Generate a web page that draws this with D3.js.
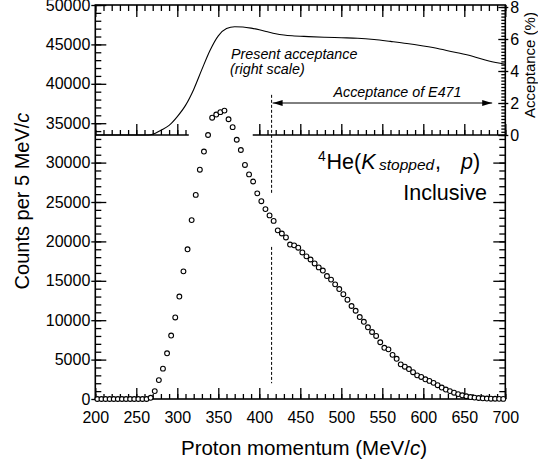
<!DOCTYPE html>
<html>
<head>
<meta charset="utf-8">
<script src="https://cdn.jsdelivr.net/npm/d3@7"></script>
<style>
  body { margin: 0; background: #fff; }
  text { font-family: "Liberation Sans", Arial, Helvetica, sans-serif; fill: #000; }
</style>
</head>
<body>
<svg id="chart" width="538" height="467"></svg>
<script>
// bin centres (MeV/c), 5 MeV bins
const momentum = [
  202.5, 207.5, 212.5, 217.5, 222.5, 227.5, 232.5, 237.5, 242.5, 247.5,
  252.5, 257.5, 262.5, 267.5, 272.5, 277.5, 282.5, 287.5, 292.5, 297.5,
  302.5, 307.5, 312.5, 317.5, 322.5, 327.5, 332.5, 337.5, 342.5, 347.5,
  352.5, 357.5, 362.5, 367.5, 372.5, 377.5, 382.5, 387.5, 392.5, 397.5,
  402.5, 407.5, 412.5, 417.5, 422.5, 427.5, 432.5, 437.5, 442.5, 447.5,
  452.5, 457.5, 462.5, 467.5, 472.5, 477.5, 482.5, 487.5, 492.5, 497.5,
  502.5, 507.5, 512.5, 517.5, 522.5, 527.5, 532.5, 537.5, 542.5, 547.5,
  552.5, 557.5, 562.5, 567.5, 572.5, 577.5, 582.5, 587.5, 592.5, 597.5,
  602.5, 607.5, 612.5, 617.5, 622.5, 627.5, 632.5, 637.5, 642.5, 647.5,
  652.5, 657.5, 662.5, 667.5, 672.5, 677.5, 682.5, 687.5, 692.5, 697.5
];
const counts = [
  0, 0, 0, 0, 0, 0, 0, 0, 0, 0,
  0, 0, 0, 150, 1000, 2400, 3850, 5800, 8050, 10350,
  13000, 16200, 19000, 22700, 25900, 29100, 31400, 33500, 35700, 36100,
  36400, 36600, 35500, 34500, 32900, 31600, 29700, 28500, 27600, 26100,
  25100, 24100, 23300, 22600, 21400, 21000, 20500, 19600, 19500, 19200,
  18600, 18100, 17700, 17200, 16700, 16300, 15600, 15150, 14550, 13950,
  13300, 12600, 11800, 11200, 10400, 9800, 9100, 8500, 8000, 7200,
  6500, 6300, 5600, 5100, 4400, 4100, 3800, 3400, 3000, 2800,
  2500, 2300, 2050, 1750, 1450, 1200, 1000, 800, 620, 470,
  350, 250, 180, 130, 90, 60, 40, 30, 20, 10
];

// acceptance curve (%), right scale
const accMomentum = [200, 265, 270, 280, 290, 300, 310, 320, 330, 340, 350, 360, 370, 380, 390,
  400, 410, 420, 430, 440, 460, 480, 500, 520, 540, 560, 580, 600, 620, 640, 660, 680, 700];
const accPercent = [0, 0, 0.05, 0.3, 0.6, 1.15, 1.85, 2.85, 4.1, 5.3, 6.2, 6.65, 6.77, 6.75, 6.68,
  6.58, 6.45, 6.33, 6.25, 6.2, 6.15, 6.11, 6.08, 6.05, 5.97, 5.85, 5.72, 5.56, 5.38, 5.16, 4.92, 4.62, 4.42];

const xTickLabels = [200, 250, 300, 350, 400, 450, 500, 550, 600, 650, 700];
const yTickLabels = [0, 5000, 10000, 15000, 20000, 25000, 30000, 35000, 40000, 45000, 50000];
const accTickLabels = [0, 2, 4, 6, 8];

const e471Cut = 415;          // dashed line
const arrowRange = [415, 684]; // E471 acceptance arrow

const svg = d3.select('#chart');

const x = d3.scaleLinear().domain([200, 700]).range([95.3, 505.3]);
const y = d3.scaleLinear().domain([0, 50000]).range([399, 5]);
const yAcc = d3.scaleLinear().domain([0, 8]).range([135, 7]);

const stroke = 1.6;

// minor ticks
const minorX = d3.range(200, 701, 10);
const minorY = d3.range(0, 50001, 1000);

// bottom axis
svg.append('g')
    .attr('transform', `translate(0,${y(0)})`)
    .call(d3.axisBottom(x).tickValues(minorX).tickSizeInner(-5).tickSizeOuter(0).tickFormat(''))
    .call(g => g.select('.domain').remove());
svg.append('g')
    .attr('transform', `translate(0,${y(0)})`)
    .call(d3.axisBottom(x).tickValues(xTickLabels).tickSizeInner(-11).tickSizeOuter(0).tickPadding(12.7))
    .call(g => g.select('.domain').remove())
    .call(g => g.selectAll('text').attr('font-size', 16));

// top axis
svg.append('g')
    .attr('transform', `translate(0,${y(50000)})`)
    .call(d3.axisTop(x).tickValues(minorX).tickSizeInner(-6).tickSizeOuter(0).tickFormat(''))
    .call(g => g.select('.domain').remove());
svg.append('g')
    .attr('transform', `translate(0,${y(50000)})`)
    .call(d3.axisTop(x).tickValues(xTickLabels).tickSizeInner(-12).tickSizeOuter(0).tickFormat(''))
    .call(g => g.select('.domain').remove());

// left axis
svg.append('g')
    .attr('transform', `translate(${x(200)},0)`)
    .call(d3.axisLeft(y).tickValues(minorY).tickSizeInner(-6).tickSizeOuter(0).tickFormat(''))
    .call(g => g.select('.domain').remove());
svg.append('g')
    .attr('transform', `translate(${x(200)},0)`)
    .call(d3.axisLeft(y).tickValues(yTickLabels).tickSizeInner(-11).tickSizeOuter(0).tickPadding(5).tickFormat(d3.format('d')))
    .call(g => g.select('.domain').remove())
    .call(g => g.selectAll('.tick line').attr('x1', -4))
    .call(g => g.selectAll('text').attr('font-size', 16));

// right axis, lower panel (counts)
svg.append('g')
    .attr('transform', `translate(${x(700)},0)`)
    .call(d3.axisRight(y).tickValues(minorY.filter(d => d <= 33000)).tickSizeInner(-6).tickSizeOuter(0).tickFormat(''))
    .call(g => g.select('.domain').remove());
svg.append('g')
    .attr('transform', `translate(${x(700)},0)`)
    .call(d3.axisRight(y).tickValues(yTickLabels.filter(d => d <= 30000)).tickSizeInner(-12).tickSizeOuter(0).tickFormat(''))
    .call(g => g.select('.domain').remove());

// right axis, upper panel (acceptance)
svg.append('g')
    .attr('transform', `translate(${x(700)},0)`)
    .call(d3.axisRight(yAcc).tickValues(d3.range(0, 8.01, 0.2)).tickSizeInner(-4).tickSizeOuter(0).tickFormat(''))
    .call(g => g.select('.domain').remove());
svg.append('g')
    .attr('transform', `translate(${x(700)},0)`)
    .call(d3.axisRight(yAcc).tickValues(accTickLabels).tickSizeInner(-7).tickSizeOuter(0).tickPadding(5))
    .call(g => g.select('.domain').remove())
    .call(g => g.selectAll('.tick line').attr('x1', 3))
    .call(g => g.selectAll('text').attr('font-size', 16));

// acceptance baseline (bottom of the upper panel), broken where the peak passes
const baseSegments = [[200, 314], [392, 700]];
baseSegments.forEach(([a, b]) => {
    svg.append('line')
        .attr('x1', x(a)).attr('x2', x(b))
        .attr('y1', yAcc(0)).attr('y2', yAcc(0))
        .attr('stroke', '#000').attr('stroke-width', stroke);
    svg.append('g')
        .attr('transform', `translate(0,${yAcc(0)})`)
        .call(d3.axisBottom(x).tickValues(minorX.filter(d => d >= a && d <= b)).tickSizeInner(-5).tickSizeOuter(0).tickFormat(''))
        .call(g => g.select('.domain').remove());
    svg.append('g')
        .attr('transform', `translate(0,${yAcc(0)})`)
        .call(d3.axisBottom(x).tickValues(xTickLabels.filter(d => d >= a && d <= b)).tickSizeInner(-11).tickSizeOuter(0).tickFormat(''))
        .call(g => g.select('.domain').remove());
});

svg.selectAll('.tick line').attr('stroke', '#000').attr('stroke-width', 1.3);

// frame
svg.append('rect')
    .attr('x', x(200)).attr('y', y(50000))
    .attr('width', x(700) - x(200)).attr('height', y(0) - y(50000))
    .attr('fill', 'none').attr('stroke', '#000').attr('stroke-width', stroke);

// acceptance curve
const accLine = d3.line()
    .x(d => x(d[0]))
    .y(d => yAcc(d[1]))
    .curve(d3.curveMonotoneX);
svg.append('path')
    .datum(accMomentum.map((m, i) => [m, accPercent[i]]))
    .attr('fill', 'none')
    .attr('stroke', '#000')
    .attr('stroke-width', 1.1)
    .attr('d', accLine);

// E471 cut (dashed), broken around the data
const cutSegments = [[38600, 26100], [19300, 2000]];
cutSegments.forEach(([a, b]) => {
    svg.append('line')
        .attr('x1', x(e471Cut)).attr('x2', x(e471Cut))
        .attr('y1', y(a)).attr('y2', y(b))
        .attr('stroke', '#000').attr('stroke-width', 1)
        .attr('stroke-dasharray', '3,2');
});

// arrow
const defs = svg.append('defs');
['start', 'end'].forEach(k => {
    defs.append('marker')
        .attr('id', 'arrow-' + k)
        .attr('viewBox', '0 0 10 6')
        .attr('refX', k === 'end' ? 10 : 0).attr('refY', 3)
        .attr('markerWidth', 10).attr('markerHeight', 6)
        .attr('markerUnits', 'userSpaceOnUse')
        .attr('orient', 'auto')
        .append('path')
        .attr('d', k === 'end' ? 'M0,0L10,3L0,6Z' : 'M10,0L0,3L10,6Z')
        .attr('fill', '#000');
});
svg.append('line')
    .attr('x1', x(arrowRange[0]) + 1).attr('x2', x(arrowRange[1]))
    .attr('y1', yAcc(2)).attr('y2', yAcc(2))
    .attr('stroke', '#000').attr('stroke-width', 1)
    .attr('marker-start', 'url(#arrow-start)')
    .attr('marker-end', 'url(#arrow-end)');

// data points
svg.append('g')
    .selectAll('circle')
    .data(momentum.map((m, i) => [m, counts[i]]))
    .join('circle')
    .attr('cx', d => x(d[0]))
    .attr('cy', d => y(d[1]))
    .attr('r', 2.4)
    .attr('fill', '#fff')
    .attr('stroke', '#000')
    .attr('stroke-width', 1.1);

// annotations
svg.append('text')
    .attr('x', 231).attr('y', 58.5)
    .attr('font-size', 14.3).attr('font-style', 'italic')
    .text('Present acceptance');
svg.append('text')
    .attr('x', 230).attr('y', 74)
    .attr('font-size', 14.3).attr('font-style', 'italic')
    .text('(right scale)');
svg.append('text')
    .attr('x', 397.5).attr('y', 97)
    .attr('text-anchor', 'middle')
    .attr('font-size', 14.3).attr('font-style', 'italic')
    .text('Acceptance of E471');

const reaction = svg.append('text')
    .attr('x', 318).attr('y', 168.5)
    .attr('font-size', 21.5);
reaction.append('tspan').attr('font-size', 14).attr('dy', -8).text('4');
reaction.append('tspan').attr('x', 326.5).attr('dy', 8).text('He(');
reaction.append('tspan').attr('font-style', 'italic').text('K');
reaction.append('tspan').attr('x', 379).attr('font-size', 15.5).attr('font-style', 'italic').attr('dy', 1).text('stopped');
reaction.append('tspan').attr('x', 435).attr('dy', -1).text(',');
reaction.append('tspan').attr('x', 461).attr('font-style', 'italic').text('p');
reaction.append('tspan').text(')');

svg.append('text')
    .attr('x', 487).attr('y', 199.5)
    .attr('text-anchor', 'end')
    .attr('font-size', 21.5)
    .text('Inclusive');

// axis titles
const xTitle = svg.append('text')
    .attr('x', 304).attr('y', 455)
    .attr('text-anchor', 'middle')
    .attr('font-size', 20.5);
xTitle.append('tspan').text('Proton momentum (MeV/');
xTitle.append('tspan').attr('font-style', 'italic').text('c');
xTitle.append('tspan').text(')');

const yTitle = svg.append('text')
    .attr('transform', 'translate(28.5,201) rotate(-90)')
    .attr('text-anchor', 'middle')
    .attr('font-size', 20);
yTitle.append('tspan').text('Counts per 5 MeV/');
yTitle.append('tspan').attr('font-style', 'italic').text('c');

svg.append('text')
    .attr('transform', 'translate(535,65) rotate(-90)')
    .attr('text-anchor', 'middle')
    .attr('font-size', 15)
    .text('Acceptance (%)');
</script>
</body>
</html>
